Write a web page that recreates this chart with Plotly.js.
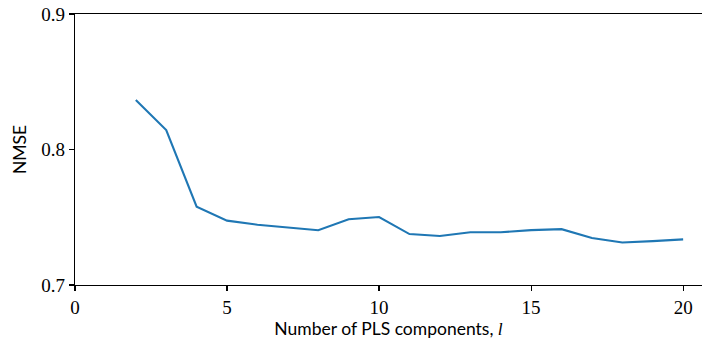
<!DOCTYPE html>
<html>
<head>
<meta charset="utf-8">
<script src="https://cdn.plot.ly/plotly-3.0.1.min.js"></script>
<style>html,body{margin:0;padding:0;background:#fff;}#chart{width:702px;height:343px;}</style>
</head>
<body>
<div id="chart"></div>
<script>
const components = [2, 3, 4, 5, 6, 7, 8, 9, 10, 11, 12, 13, 14, 15, 16, 17, 18, 19, 20];
const nmse = [0.8365, 0.8144, 0.7578, 0.7475, 0.7445, 0.7423, 0.7404, 0.7485, 0.7502, 0.7376, 0.7362, 0.7389, 0.7389, 0.7405, 0.7412, 0.7347, 0.7314, 0.7324, 0.7337];
const xTicks = [0, 5, 10, 15, 20];
const yTicks = [0.7, 0.8, 0.9];

const serifName = "Liberation Serif";
const sans = "Lato, DejaVu Sans, sans-serif";

Plotly.newPlot('chart', [{
  x: components, y: nmse, type: 'scatter', mode: 'lines',
  line: {color: '#1f77b4', width: 2.1}
}], {
  width: 702, height: 343,
  margin: {l: 75, r: 0, t: 14, b: 58},
  paper_bgcolor: '#fff', plot_bgcolor: '#fff',
  showlegend: false,
  font: {family: serifName, size: 18, color: 'black'},
  xaxis: {
    range: [0, 20.62], tickmode: 'array', tickvals: xTicks, ticktext: xTicks.map(String),
    showgrid: false, zeroline: false,
    showline: true, linecolor: 'black', linewidth: 1.2, mirror: true,
    ticks: 'outside', ticklen: 5, tickwidth: 1.2, tickcolor: 'black',
    tickfont: {family: serifName, size: 19, color: 'black'},
    title: {text: 'Number of PLS components, <i style="font-family:' + serifName + '">l</i>', font: {family: sans, size: 17.5, color: 'black'}, standoff: 4}
  },
  yaxis: {
    range: [0.7, 0.9], tickmode: 'array', tickvals: yTicks, ticktext: yTicks.map(v => v.toFixed(1)),
    showgrid: false, zeroline: false,
    showline: true, linecolor: 'black', linewidth: 1.2, mirror: false,
    ticks: 'outside', ticklen: 5, tickwidth: 1.2, tickcolor: 'black',
    tickfont: {family: serifName, size: 19, color: 'black'},
    title: {text: 'NMSE', font: {family: sans, size: 17.5, color: 'black'}, standoff: 10}
  }
}, {displayModeBar: false, staticPlot: true});
</script>
</body>
</html>
